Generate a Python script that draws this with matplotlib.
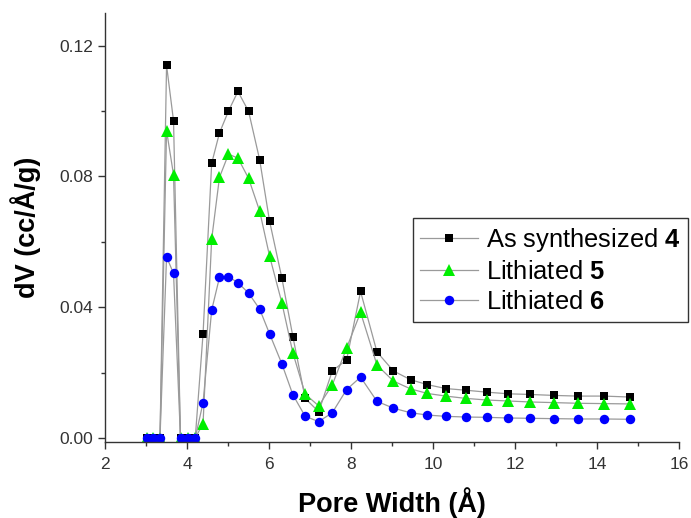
import matplotlib
matplotlib.use("Agg")
import matplotlib.pyplot as plt
from matplotlib.ticker import MultipleLocator

plt.rcParams["font.family"] = ["Liberation Sans", "DejaVu Sans"]
plt.rcParams["mathtext.fontset"] = "custom"
plt.rcParams["mathtext.bf"] = "Liberation Sans:bold"

# pore width (A) and dV (cc/A/g) for each sample
pore_width = [3.03, 3.18, 3.34, 3.50, 3.67, 3.84, 4.02, 4.20, 4.39, 4.60,
              4.79, 5.01, 5.24, 5.50, 5.77, 6.01, 6.31, 6.58, 6.88, 7.21,
              7.54, 7.89, 8.23, 8.63, 9.03, 9.45, 9.86, 10.31, 10.79, 11.31,
              11.83, 12.36, 12.95, 13.53, 14.16, 14.81]
dv_as_synth_4 = [0.0, 0.0, 0.0, 0.114, 0.097, 0.0, 0.0, 0.0, 0.0319, 0.084,
                 0.0933, 0.100, 0.106, 0.0999, 0.0851, 0.0664, 0.049, 0.031, 0.0121, 0.0080,
                 0.0205, 0.0239, 0.0448, 0.0263, 0.0205, 0.0178, 0.0163, 0.0151, 0.0146, 0.0140,
                 0.0135, 0.0133, 0.0130, 0.0128, 0.0128, 0.0125]
dv_lith_5 = [0.0, 0.0, 0.0, 0.094, 0.0805, 0.0, 0.0, 0.0, 0.0044, 0.0608,
             0.0797, 0.0868, 0.0856, 0.0794, 0.0694, 0.0557, 0.0414, 0.026, 0.0134, 0.0098,
             0.0162, 0.0275, 0.0384, 0.0223, 0.0174, 0.0150, 0.0136, 0.0128, 0.0121, 0.0116,
             0.0113, 0.0110, 0.0108, 0.0106, 0.0105, 0.0104]
dv_lith_6 = [0.0, 0.0, 0.0, 0.0554, 0.0503, 0.0, 0.0, 0.0, 0.0108, 0.0391,
             0.0491, 0.0493, 0.0475, 0.0443, 0.0394, 0.0319, 0.0227, 0.0132, 0.0066, 0.0050,
             0.0077, 0.0148, 0.0186, 0.0112, 0.0091, 0.0077, 0.0070, 0.0066, 0.0064, 0.0063,
             0.0061, 0.0060, 0.0059, 0.0058, 0.0058, 0.0057]

labels = ["As synthesized $\\mathbf{4}$", "Lithiated $\\mathbf{5}$", "Lithiated $\\mathbf{6}$"]

fig = plt.figure(figsize=(6.91, 5.18), dpi=100)
ax = fig.add_axes([0.152, 0.147, 0.831, 0.828])

line_kw = dict(color="#9a9a9a", lw=0.9, markeredgewidth=0)
ax.plot(pore_width, dv_as_synth_4, marker="s", ms=5.6, markerfacecolor="black",
        label=labels[0], **line_kw)
ax.plot(pore_width, dv_lith_5, marker="^", ms=8, markerfacecolor="#00ee00",
        label=labels[1], **line_kw)
ax.plot(pore_width, dv_lith_6, marker="o", ms=6.8, markerfacecolor="#0000ff",
        label=labels[2], **line_kw)

ax.set_xlim(2, 16)
ax.set_ylim(-0.0012, 0.13)
ax.xaxis.set_major_locator(MultipleLocator(2))
ax.xaxis.set_minor_locator(MultipleLocator(1))
ax.set_yticks([0.0, 0.04, 0.08, 0.12])
ax.set_yticklabels(["0.00", "0.04", "0.08", "0.12"])
ax.yaxis.set_minor_locator(MultipleLocator(0.02))

for side in ("top", "right"):
    ax.spines[side].set_visible(False)
for side in ("left", "bottom"):
    ax.spines[side].set_color("#333333")
    ax.spines[side].set_linewidth(1.0)

ax.tick_params(which="major", direction="out", length=5, width=1.0,
               color="#333333", labelsize=12.5, labelcolor="#333333")
ax.tick_params(axis="x", which="major", pad=6)
ax.tick_params(which="minor", direction="out", length=3, width=1.0, color="#333333")

ax.set_xlabel("Pore Width (Å)", fontsize=19.5, fontweight="bold", labelpad=11)
ax.set_ylabel("dV (cc/Å/g)", fontsize=19.5, fontweight="bold", labelpad=13)

leg = ax.legend(loc="upper left", bbox_to_anchor=(0.597, 0.579),
                bbox_transform=fig.transFigure, borderaxespad=0,
                fontsize=18.4, fancybox=False, framealpha=1, edgecolor="#333333",
                handlelength=2.27, handletextpad=0.31, labelspacing=0.24,
                borderpad=0.3)
leg.get_frame().set_linewidth(1.0)

fig.savefig("out.png", dpi=100)
